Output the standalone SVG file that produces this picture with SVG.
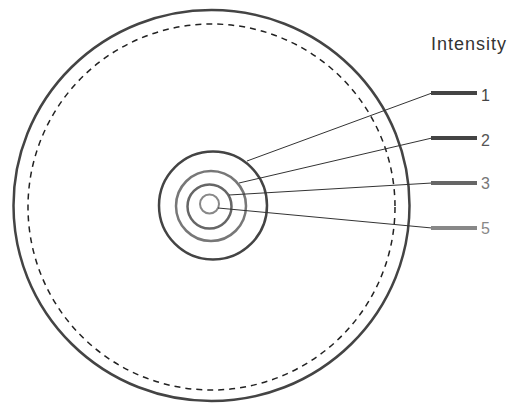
<svg xmlns="http://www.w3.org/2000/svg" width="517" height="404" viewBox="0 0 517 404">
<style>
.lbl{font-family:"Liberation Sans",Arial,sans-serif;font-size:16px}
.ttl{font-family:"Liberation Sans",Arial,sans-serif;font-size:18px;letter-spacing:1px}
.ring{fill:none}
.lead{stroke:#333;stroke-width:1;fill:none}
.bar{stroke-width:4}
</style>
<rect width="517" height="404" fill="#fff"/>
<g id="outer"><ellipse class="ring" cx="211.5" cy="205.5" rx="198" ry="195.5" stroke="#444" stroke-width="2.5"/></g>
<g id="dashed"><ellipse class="ring" cx="211.5" cy="207" rx="183.5" ry="183" stroke="#222" stroke-width="1.5" stroke-dasharray="6,5"/></g>
<g id="ring1"><circle class="ring" cx="213" cy="205.5" r="54" stroke="#444" stroke-width="2.5"/></g>
<g id="ring2"><circle class="ring" cx="211" cy="206" r="35" stroke="#777" stroke-width="2.5"/></g>
<g id="ring3"><circle class="ring" cx="209.5" cy="206.5" r="22" stroke="#666" stroke-width="2.5"/></g>
<g id="ring5"><circle class="ring" cx="209.5" cy="204" r="9.5" stroke="#888" stroke-width="2"/></g>
<g id="connectors">
<line class="lead" x1="247" y1="161" x2="432" y2="93"/>
<line class="lead" x1="239" y1="183" x2="432" y2="138"/>
<line class="lead" x1="229" y1="195" x2="432" y2="183"/>
<line class="lead" x1="218" y1="208" x2="432" y2="228"/>
</g>
<g id="legend">
<text class="ttl" x="431" y="50" fill="#333">Intensity</text>
<g id="leg1"><line class="bar" x1="431" y1="93" x2="477" y2="93" stroke="#444"/><text class="lbl" x="481" y="101" fill="#444">1</text></g>
<g id="leg2"><line class="bar" x1="431" y1="138" x2="477" y2="138" stroke="#444"/><text class="lbl" x="481" y="146" fill="#555">2</text></g>
<g id="leg3"><line class="bar" x1="431" y1="183" x2="477" y2="183" stroke="#666"/><text class="lbl" x="481" y="189" fill="#777">3</text></g>
<g id="leg5"><line class="bar" x1="431" y1="228" x2="477" y2="228" stroke="#888"/><text class="lbl" x="481" y="234" fill="#888">5</text></g>
</g>
</svg>
